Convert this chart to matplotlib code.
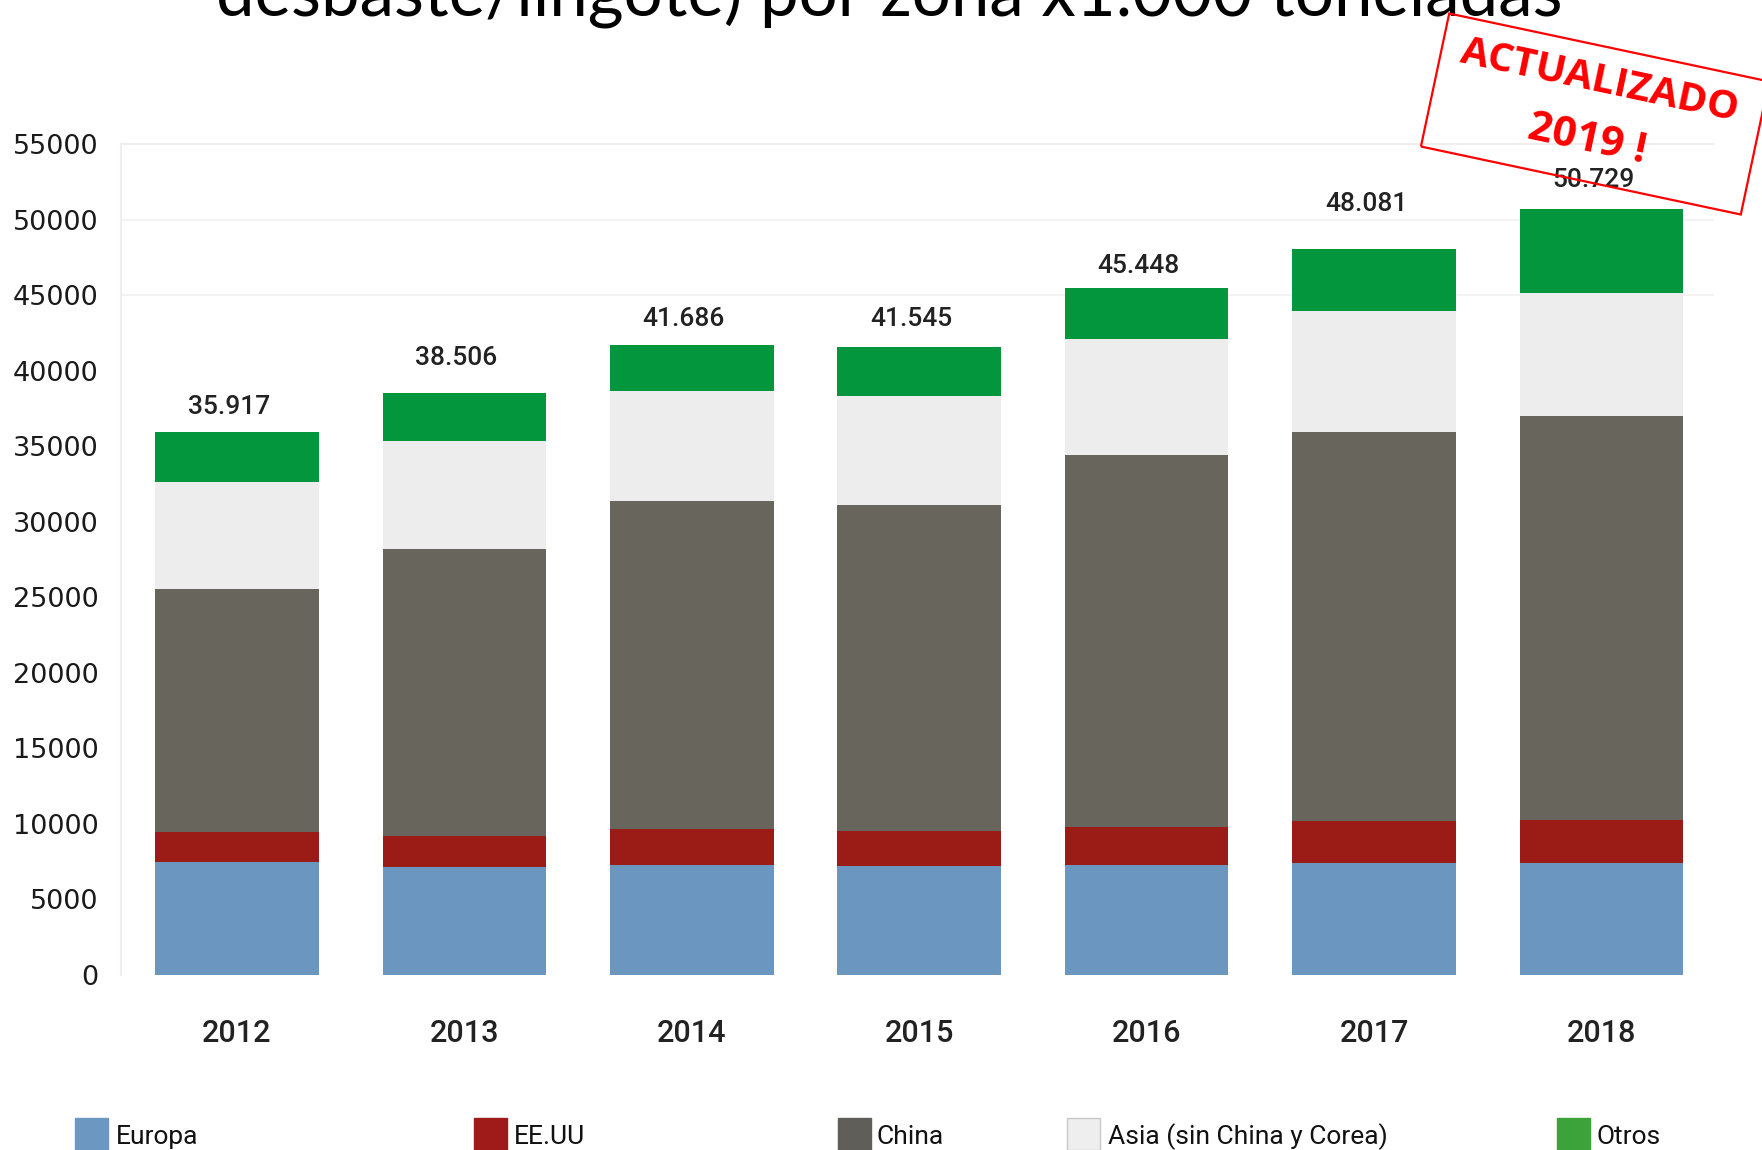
import matplotlib
matplotlib.use("Agg")
import matplotlib.pyplot as plt
from matplotlib.patches import Rectangle
import numpy as np

years = ["2012", "2013", "2014", "2015", "2016", "2017", "2018"]
europa = [7500, 7130, 7280, 7240, 7280, 7390, 7390]
eeuu = [1990, 2070, 2390, 2300, 2540, 2800, 2870]
china = [16090, 18990, 21670, 21540, 24570, 25720, 26710]
asia = [7050, 7130, 7290, 7260, 7710, 8060, 8180]
otros = [3287, 3186, 3056, 3205, 3348, 4111, 5579]
totals = [35917, 38506, 41686, 41545, 45448, 48081, 50729]
yticks = [0, 5000, 10000, 15000, 20000, 25000, 30000, 35000, 40000, 45000, 50000, 55000]
series_names = ["Europa", "EE.UU", "China", "Asia (sin China y Corea)", "Otros"]
title = "desbaste/lingote) por zona x1.000 toneladas"

# style: pixel gap of each total label above its bar
label_gaps = [18, 28, 19, 21, 15, 38, 22]

bar_colors = ["#6a96c0", "#9b1b16", "#68655d", "#ededed", "#04963c"]
legend_colors = ["#6b97c1", "#9e1b1a", "#5f5e58", "#eeeeee", "#3ca23a"]

W, H = 1762, 1150
fig = plt.figure(figsize=(W / 100, H / 100), dpi=100)
fig.patch.set_facecolor("white")

ax = fig.add_axes([121 / W, 1 - 975 / H, (1714 - 121) / W, (975 - 144) / H])
x = np.arange(len(years))
bottom = np.zeros(len(years))
for vals, col in zip([europa, eeuu, china, asia, otros], bar_colors):
    ax.bar(x, vals, width=0.72, bottom=bottom, color=col, linewidth=0, zorder=3)
    bottom += np.array(vals)

for xi, t, g in zip(x, totals, label_gaps):
    lab = f"{t:,}".replace(",", ".")
    ax.annotate(lab, (xi, t), xytext=(-8, g), textcoords="offset pixels",
                ha="center", va="baseline", fontsize=19, family="Roboto",
                fontweight="medium", color="#222222", zorder=5)

ax.set_xlim(-0.51, 6.495)
ax.set_ylim(0, 55000)
ax.set_xticks(x)
ax.set_xticklabels(years, family="Roboto", fontsize=22, fontweight="medium", color="#222222")
ax.set_yticks(yticks)
ax.set_yticklabels([str(v) for v in yticks], family="DejaVu Sans", fontsize=19.5, color="#1a1a1a")
ax.tick_params(axis="x", length=0, pad=32)
ax.tick_params(axis="y", length=0, pad=16)
for s in ["right", "bottom"]:
    ax.spines[s].set_visible(False)
for s in ["top", "left"]:
    ax.spines[s].set_color("#eeeeee")
    ax.spines[s].set_linewidth(1.5)
for g in [45000, 50000]:
    ax.axhline(g, color="#f3f3f3", linewidth=1.5, zorder=1)

# Legend (cropped at bottom like the reference)
patch_x = [75, 474, 838, 1067, 1557]
text_x = [116, 514, 876, 1108, 1596]
for name, col, px, tx in zip(series_names, legend_colors, patch_x, text_x):
    ec = "#c8c8c8" if name.startswith("Asia") else col
    fig.add_artist(Rectangle((px, 0), 33, H - 1118, transform=None,
                             facecolor=col, edgecolor=ec, linewidth=1))
    fig.text(tx / W, 1 - 1144 / H, name, ha="left", va="baseline",
             family="Roboto", fontsize=19, color="#111111")

# Title (cut off at top)
tt = fig.text(889 / W, 1 - 15 / H, title, ha="center", va="baseline",
              family="Lato", fontsize=46, color="black")
fig.canvas.draw()
w = tt.get_window_extent().width
tt.set_fontsize(46 * 1345 / w)

# Stamp
stamp = Rectangle((15.95 - 1.635, 10.36 - 0.68), 3.27, 1.36, angle=-12,
                  rotation_point="center", transform=fig.dpi_scale_trans,
                  fill=False, edgecolor="red", linewidth=1.6, zorder=10)
fig.add_artist(stamp)
fig.text(16.00, 10.69, "ACTUALIZADO", transform=fig.dpi_scale_trans, rotation=-12,
         rotation_mode="anchor", ha="center", va="center", family="Open Sans",
         fontweight="bold", fontsize=29, color="red", zorder=11)
fig.text(15.87, 10.10, "2019 !", transform=fig.dpi_scale_trans, rotation=-12,
         rotation_mode="anchor", ha="center", va="center", family="Open Sans",
         fontweight="bold", fontsize=30.5, color="red", zorder=11)

fig.savefig("out.png", dpi=100)
